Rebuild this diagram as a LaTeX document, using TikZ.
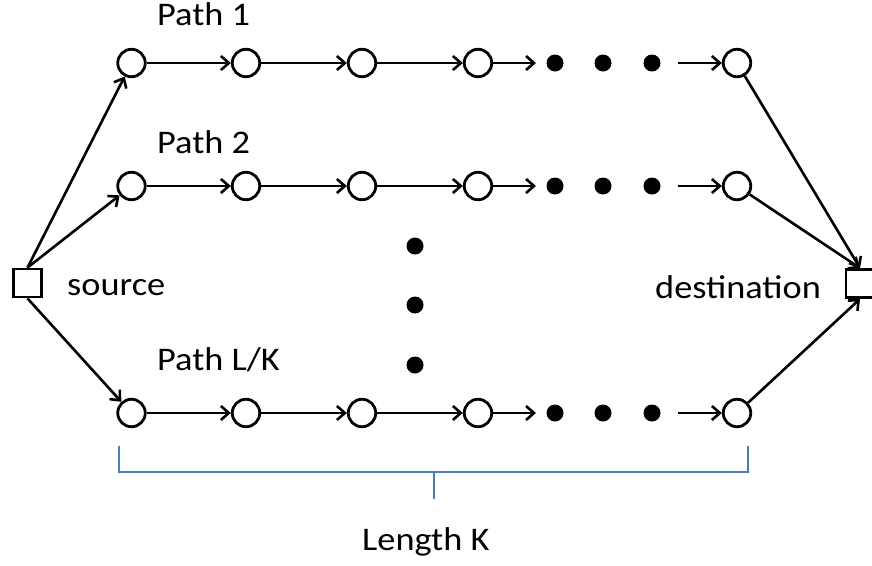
\documentclass[tikz,border=0pt]{standalone}
\usepackage{fontspec}
\setmainfont{Carlito}
\usetikzlibrary{arrows.meta}
\definecolor{brk}{HTML}{4A7EBB}
\begin{document}
\begin{tikzpicture}[x=1pt,y=-1pt,
  pnode/.style={circle,draw,line width=2.8pt,minimum size=27.5pt,inner sep=0pt,fill=white},
  dotnode/.style={circle,fill=black,minimum size=17pt,inner sep=0pt},
  endbox/.style={rectangle,draw,line width=2.8pt,minimum size=28pt,inner sep=0pt,fill=white},
  conn/.style={line width=2.6pt,-{Straight Barb[length=8pt,width=14pt,line width=2.6pt]}},
  lbl/.style={anchor=base west,inner sep=0pt,font=\fontsize{33}{40}\selectfont,xscale=1.1,transform shape},
  bracketline/.style={draw=brk,line width=2pt}
]
\useasboundingbox (0,0) rectangle (872,565);
% end boxes
\node[endbox] (src) at (27.5,283) {};
\node[endbox] (dst) at (860,283.5) {};
% rows
\foreach \r/\y in {a/63,b/186,c/413}{
  \node[pnode] (\r1) at (131.5,\y) {};
  \node[pnode] (\r2) at (246,\y) {};
  \node[pnode] (\r3) at (362,\y) {};
  \node[pnode] (\r4) at (478,\y) {};
  \node[pnode] (\r5) at (737,\y) {};
  \node[dotnode] (\r d1) at (555,\y) {};
  \node[dotnode] (\r d2) at (603,\y) {};
  \node[dotnode] (\r d3) at (652,\y) {};
  \coordinate (\r e) at (536,\y);
  \coordinate (\r s) at (678,\y);
  \draw[conn] (\r1) -- (\r2);
  \draw[conn] (\r2) -- (\r3);
  \draw[conn] (\r3) -- (\r4);
  \draw[conn] (\r4) -- (\r e);
  \draw[conn] (\r s) -- (\r5);
}
% vertical dots
\node[dotnode] (v1) at (415,246) {};
\node[dotnode] (v2) at (415,305) {};
\node[dotnode] (v3) at (415,365) {};
% source / destination connectors
\draw[conn] (src.north) -- (a1);
\draw[conn] (src.north) -- (b1);
\draw[conn] (src.south) -- (c1);
\draw[conn] (a5) -- (dst.north);
\draw[conn] (b5) -- (dst.north);
\draw[conn] (c5) -- (dst.south);
% labels
\node[lbl] (l1) at (157,25) {Path 1};
\node[lbl] (l2) at (157,153) {Path 2};
\node[lbl] (l3) at (157,370) {Path L/K};
\node[lbl] (ls) at (67,295) {source};
\node[lbl] (ld) at (655,298) {destination};
\node[lbl] (lk) at (362,550) {Length K};
% bracket
\coordinate (bl) at (119,446);
\coordinate (br) at (748,446);
\coordinate (bc) at (434,472);
\draw[bracketline] (bl) -- (119,472) -- (748,472) -- (br);
\draw[bracketline] (bc) -- (434,499);
\end{tikzpicture}
\end{document}
